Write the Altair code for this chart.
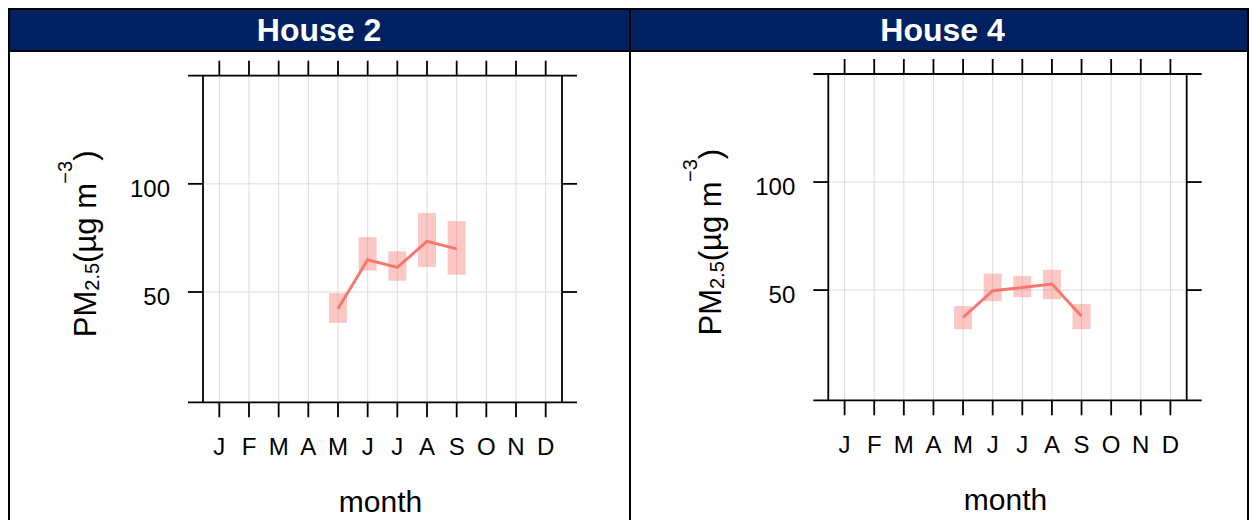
import altair as alt
import pandas as pd

# ---------------- data ----------------
month_labels = ["J", "F", "M", "A", "M", "J", "J", "A", "S", "O", "N", "D"]
month_numbers = list(range(1, 13))
y_tick_values = [50, 100]
y_tick_labels = ["50", "100"]
panel_titles = ["House 2", "House 4"]
obs_months = [5, 6, 7, 8, 9]

house2_mean = [42.2, 64.9, 61.4, 73.4, 69.9]
house2_lower = [35.7, 59.9, 55.2, 61.6, 58.0]
house2_upper = [49.5, 75.4, 68.8, 86.5, 82.8]

house4_mean = [37.3, 49.7, 51.2, 52.8, 37.9]
house4_lower = [31.9, 44.9, 46.7, 45.8, 31.9]
house4_upper = [42.6, 57.6, 56.5, 59.4, 43.6]

x_title = "month"

# ---------------- style / layout (chart pixels, origin = page (8, 8)) ----------------
FONT = "Liberation Sans"
LINE_COLOR = "#F8766D"
NAVY = "#002060"
GRID = "#dcdcdc"
CW, CH = 1241, 512          # the page body is 1241 px wide; wider charts get scaled down
X_DOMAIN = [0.45, 12.55]
Y_DOMAIN = [-1, 150]
TICK = 15
AX_W = 1.8

PANELS = [
    dict(left=195.0, right=554.0, top=67.7, bottom=394.3, fx1=0, fx2=623, fill1=2, fill2=621, tx=311.0),
    dict(left=820.3, right=1178.7, top=66.0, bottom=392.3, fx1=623, fx2=1241, fill1=623, fill2=1239, tx=934.5),
]

one = alt.Data(values=[{"k": 0}])
ticks_df = pd.DataFrame({"month": month_numbers, "label": month_labels})
yticks_df = pd.DataFrame({"value": y_tick_values, "label": y_tick_labels})


def block(x1, x2, y1, y2, color="black"):
    return alt.Chart(one).mark_rect(color=color).encode(
        x=alt.value(x1), x2=alt.value(x2), y=alt.value(y1), y2=alt.value(y2))


def rule_v(x, y1, y2, w=AX_W):
    return alt.Chart(one).mark_rule(color="black", strokeWidth=w).encode(
        x=alt.value(x), y=alt.value(y1), y2=alt.value(y2))


def rule_h(y, x1, x2, w=AX_W):
    return alt.Chart(one).mark_rule(color="black", strokeWidth=w).encode(
        y=alt.value(y), x=alt.value(x1), x2=alt.value(x2))


def text_at(txt, x, y, size, **kw):
    return alt.Chart(one).mark_text(text=txt, fontSize=size, font=FONT, **kw).encode(
        x=alt.value(x), y=alt.value(y))


def ylab_pieces(g):
    F, S = 31, 20
    base_x = g["left"] - 107
    y = g["top"] + 261.5
    kw = dict(angle=270, align="left", baseline="alphabetic", color="black")
    pieces = [text_at("PM", base_x, y, F, **kw)]
    y -= 1.5 * F
    pieces.append(text_at("2.5", base_x + 3, y, S, **kw))
    y -= 1.39 * S
    pieces.append(text_at("(\u00b5g m", base_x, y, F, **kw))
    y -= 2.556 * F
    pieces.append(text_at("\u22123", base_x - 24, y, S, **kw))
    y -= 1.14 * S
    pieces.append(text_at(")", base_x, y, F, **kw))
    return pieces


def panel_layers(title, mean, lower, upper, g):
    df = pd.DataFrame({"month": obs_months, "mean": mean, "lower": lower, "upper": upper})
    L, R, T, B = g["left"], g["right"], g["top"], g["bottom"]

    def X(field):
        return alt.X(field, scale=alt.Scale(domain=X_DOMAIN, range=[L, R], nice=False, zero=False, padding=0),
                     axis=None)

    def Y(field):
        return alt.Y(field, scale=alt.Scale(domain=Y_DOMAIN, range=[B, T], nice=False, zero=False, padding=0),
                     axis=None)

    layers = []
    # header strip and frame lines
    layers.append(block(g["fill1"], g["fill2"], 2, 42, NAVY))
    layers.append(block(g["fx1"], g["fx2"], 0, 2))
    layers.append(block(g["fx1"], g["fx2"], 42, 44))
    layers.append(text_at(title, g["tx"], 23, 32, fontWeight="bold", color="white",
                          align="center", baseline="middle"))
    # grid
    layers.append(alt.Chart(ticks_df).mark_rule(color=GRID, strokeWidth=1).encode(
        x=X("month:Q"), y=alt.value(T), y2=alt.value(B)))
    layers.append(alt.Chart(yticks_df).mark_rule(color=GRID, strokeWidth=1).encode(
        y=Y("value:Q"), x=alt.value(L), x2=alt.value(R)))
    # data: interval boxes and mean line
    layers.append(alt.Chart(df).mark_bar(width=18, color=LINE_COLOR, opacity=0.4).encode(
        x=X("month:Q"), y=Y("lower:Q"), y2="upper:Q"))
    layers.append(alt.Chart(df).mark_line(color=LINE_COLOR, strokeWidth=2.9).encode(
        x=X("month:Q"), y=Y("mean:Q")))
    # ticks on all four sides
    layers.append(alt.Chart(ticks_df).mark_rule(color="black", strokeWidth=AX_W).encode(
        x=X("month:Q"), y=alt.value(B), y2=alt.value(B + TICK)))
    layers.append(alt.Chart(ticks_df).mark_rule(color="black", strokeWidth=AX_W).encode(
        x=X("month:Q"), y=alt.value(T - TICK), y2=alt.value(T)))
    layers.append(alt.Chart(yticks_df).mark_rule(color="black", strokeWidth=AX_W).encode(
        y=Y("value:Q"), x=alt.value(L - TICK), x2=alt.value(L)))
    layers.append(alt.Chart(yticks_df).mark_rule(color="black", strokeWidth=AX_W).encode(
        y=Y("value:Q"), x=alt.value(R), x2=alt.value(R + TICK)))
    # tick labels
    layers.append(alt.Chart(ticks_df).mark_text(font=FONT, fontSize=24, color="black", align="center",
                                                baseline="alphabetic").encode(
        x=X("month:Q"), y=alt.value(B + 52.7), text="label:N"))
    layers.append(alt.Chart(yticks_df).mark_text(font=FONT, fontSize=24, color="black", align="right",
                                                 baseline="alphabetic", dy=12.7).encode(
        y=Y("value:Q"), x=alt.value(L - 33), text="label:N"))
    # plot box
    layers += [rule_v(L, T, B), rule_v(R, T, B), rule_h(T, L - TICK, R + TICK), rule_h(B, L - TICK, R + TICK)]
    # axis titles
    layers.append(text_at(x_title, (L + R) / 2 - 2, B + 109.4, 30, align="center", baseline="alphabetic",
                          color="black"))
    layers += ylab_pieces(g)
    return layers


all_layers = []
all_layers += panel_layers(panel_titles[0], house2_mean, house2_lower, house2_upper, PANELS[0])
all_layers += panel_layers(panel_titles[1], house4_mean, house4_lower, house4_upper, PANELS[1])
# outer vertical borders
all_layers += [block(0, 2, 0, CH), block(621, 623, 0, CH), block(1239, 1241, 0, CH)]

chart = (
    alt.layer(*all_layers)
    .resolve_scale(x="independent", y="independent")
    .properties(width=CW, height=CH, autosize=alt.AutoSizeParams(type="none"), padding=0)
    .configure_view(stroke="transparent")
)
chart.save("out.html", embed_options={"renderer": "svg", "actions": False})
